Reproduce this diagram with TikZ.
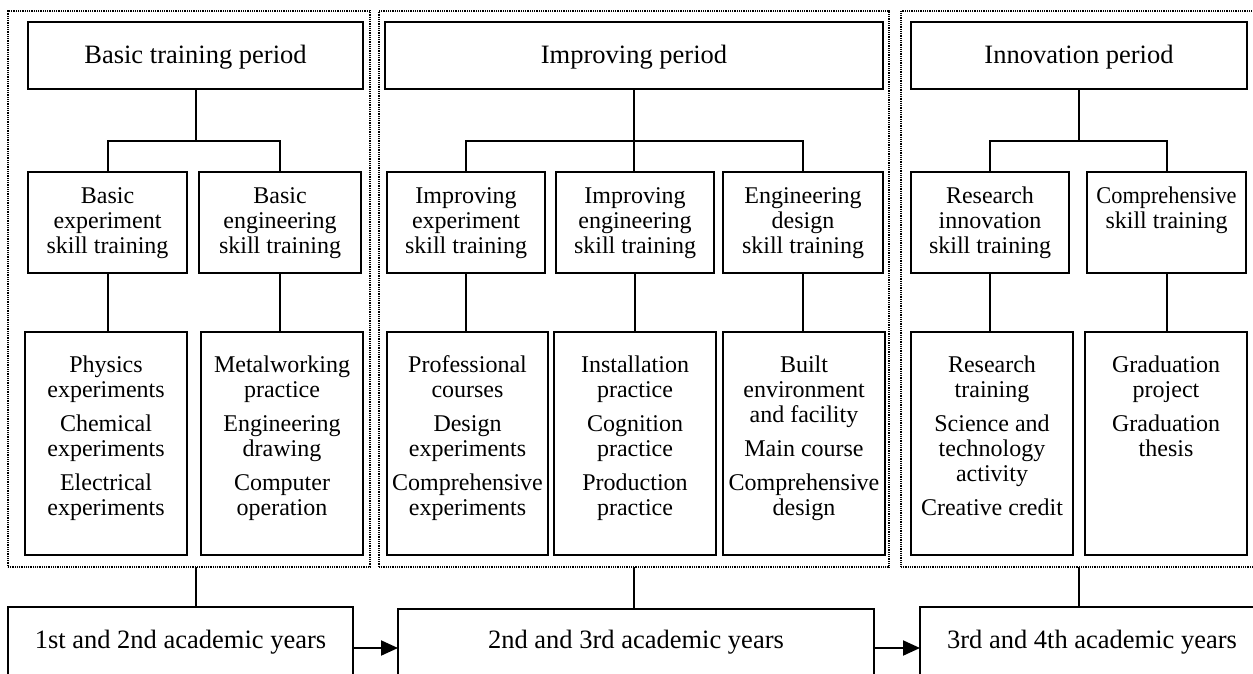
\documentclass[tikz,border=0pt]{standalone}
\usepackage{fontspec}
\usepackage{graphicx}
\setmainfont{Liberation Serif}
\usetikzlibrary{arrows.meta}
\newcommand{\fbig}{\fontsize{26.5}{28}\selectfont}
\newcommand{\fsm}{\fontsize{24}{25}\selectfont}
% #1 width, #2 height, #3 first baseline from top, #4 font, #5 text
\newcommand{\bx}[5]{\parbox[c][#2][t]{#1}{#4\centering\rule{0pt}{#3}#5\par}}
\tikzset{
  box/.style={draw, line width=2pt, inner sep=0pt, outer sep=0pt, anchor=north west},
  frame/.style={draw, line width=1.2pt, dash pattern=on 1pt off 0.8pt, inner sep=0pt, outer sep=0pt, anchor=north west},
  conn/.style={line width=2pt},
  arr/.style={line width=2pt, -{Triangle[length=17pt,width=15pt]}}
}
\begin{document}
\begin{tikzpicture}[x=1pt,y=-1pt]
\useasboundingbox (0,0) rectangle (1253,673);
\clip (0,0) rectangle (1253,673);
% frames
\node[frame, minimum width=362pt, minimum height=556pt] (f1) at (8,11) {};
\node[frame, minimum width=510pt, minimum height=556pt] (f2) at (379,11) {};
\node[frame, minimum width=360pt, minimum height=556pt] (f3) at (901,11) {};
% top boxes
\node[box] (t1) at (28,22) {\bx{335pt}{67pt}{41pt}{\fbig}{Basic training period}};
\node[box] (t2) at (385,22) {\bx{498pt}{67pt}{41pt}{\fbig}{Improving period}};
\node[box] (t3) at (911,22) {\bx{336pt}{67pt}{41pt}{\fbig}{Innovation period}};
% level 2
\node[box] (a1) at (28,172) {\bx{159pt}{101pt}{31pt}{\fsm}{Basic\\experiment\\skill training}};
\node[box] (a2) at (199,172) {\bx{162pt}{101pt}{31pt}{\fsm}{Basic\\engineering\\skill training}};
\node[box] (a3) at (387,172) {\bx{158pt}{101pt}{31pt}{\fsm}{Improving\\experiment\\skill training}};
\node[box] (a4) at (556,172) {\bx{158pt}{101pt}{31pt}{\fsm}{Improving\\engineering\\skill training}};
\node[box] (a5) at (723,172) {\bx{160pt}{101pt}{31pt}{\fsm}{Engineering\\design\\skill training}};
\node[box] (a6) at (911,172) {\bx{158pt}{101pt}{31pt}{\fsm}{Research\\innovation\\skill training}};
\node[box] (a7) at (1087,172) {\bx{159pt}{101pt}{31pt}{\fsm}{\scalebox{0.93}[1]{Comprehensive}\\skill training}};
% level 3
\node[box] (c1) at (25,332) {\bx{162pt}{223pt}{40pt}{\fsm}{Physics\\experiments\\[9pt]Chemical\\experiments\\[9pt]Electrical\\experiments}};
\node[box] (c2) at (201,332) {\bx{162pt}{223pt}{40pt}{\fsm}{Metalworking\\practice\\[9pt]Engineering\\drawing\\[9pt]Computer\\operation}};
\node[box] (c3) at (387,332) {\bx{161pt}{223pt}{40pt}{\fsm}{Professional\\courses\\[9pt]Design\\experiments\\[9pt]Comprehensive\\experiments}};
\node[box] (c4) at (554,332) {\bx{162pt}{223pt}{40pt}{\fsm}{Installation\\practice\\[9pt]Cognition\\practice\\[9pt]Production\\practice}};
\node[box] (c5) at (723,332) {\bx{162pt}{223pt}{40pt}{\fsm}{Built\\environment\\and facility\\[9pt]Main course\\[9pt]Comprehensive\\design}};
\node[box] (c6) at (911,332) {\bx{162pt}{223pt}{40pt}{\fsm}{Research\\training\\[9pt]Science and\\technology\\activity\\[9pt]Creative credit}};
\node[box] (c7) at (1085,332) {\bx{162pt}{223pt}{40pt}{\fsm}{Graduation\\project\\[9pt]Graduation\\thesis}};
% bottom boxes
\node[box] (b1) at (8,607) {\bx{345pt}{82pt}{41pt}{\fbig}{1st and 2nd academic years}};
\node[box] (b2) at (398,609) {\bx{476pt}{82pt}{39pt}{\fbig}{2nd and 3rd academic years}};
\node[box] (b3) at (920,607) {\bx{344pt}{82pt}{41pt}{\fbig}{3rd and 4th academic years}};
% branch level
\coordinate (br) at (0,141);
% frame 1
\draw[conn] (t1.south) -- (t1.south |- br);
\draw[conn] (a1.north) |- (br -| a2.north) -- (a2.north);
\draw[conn] (a1.south) -- (a1.south |- c1.north);
\draw[conn] (a2.south) -- (a2.south |- c2.north);
% frame 2
\draw[conn] (t2.south) -- (t2.south |- a4.north);
\draw[conn] (a3.north) |- (br -| a5.north) -- (a5.north);
\draw[conn] (a3.south) -- (a3.south |- c3.north);
\draw[conn] (a4.south) -- (a4.south |- c4.north);
\draw[conn] (a5.south) -- (a5.south |- c5.north);
% frame 3
\draw[conn] (t3.south) -- (t3.south |- br);
\draw[conn] (a6.north) |- (br -| a7.north) -- (a7.north);
\draw[conn] (a6.south) -- (a6.south |- c6.north);
\draw[conn] (a7.south) -- (a7.south |- c7.north);
% frames to years
\draw[conn] (t1.south |- f1.south) -- (t1.south |- b1.north);
\draw[conn] (t2.south |- f2.south) -- (t2.south |- b2.north);
\draw[conn] (t3.south |- f3.south) -- (t3.south |- b3.north);
% arrows
\draw[arr] (b1.east) -- (b1.east -| b2.west);
\draw[arr] (b2.east |- b3.west) -- (b3.west);
\end{tikzpicture}
\end{document}
